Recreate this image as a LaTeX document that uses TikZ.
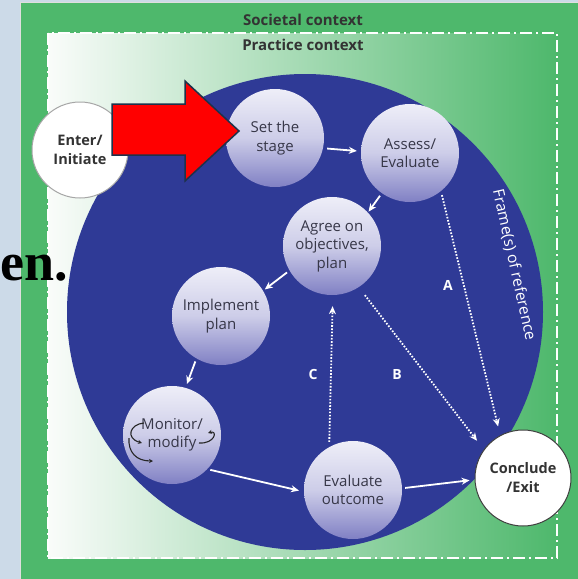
\documentclass[tikz,border=0pt]{standalone}
\usepackage{fontspec}
\setmainfont{Open Sans}
\newfontfamily\enfont{Liberation Serif}
\usetikzlibrary{arrows.meta}
\definecolor{bgblue}{RGB}{204,218,232}
\definecolor{outgreen}{RGB}{78,184,108}
\definecolor{pale}{RGB}{250,252,250}
\definecolor{midgreen}{RGB}{178,220,186}
\definecolor{bigblue}{RGB}{47,58,150}
\definecolor{ctop}{RGB}{238,238,248}
\definecolor{cbot}{RGB}{128,128,196}
\definecolor{txt}{RGB}{55,55,72}
\definecolor{arrred}{RGB}{255,0,0}
\definecolor{arrline}{RGB}{30,50,75}
\tikzset{
  stepball/.style={circle, minimum size=98pt, inner sep=0pt, top color=ctop, bottom color=cbot,
    middle color=ctop!70!cbot, draw=none, font=\fontsize{15}{18.5}\selectfont, text=txt, align=center},
  endball/.style={circle, minimum size=96pt, inner sep=0pt, fill=white, line width=1pt,
    font=\bfseries\fontsize{14.5}{19}\selectfont, text=black!80, align=center},
  flow/.style={white, line width=1.8pt, -{Stealth[length=8pt,width=7pt]}, shorten <=4pt, shorten >=4pt},
  dotflow/.style={white, line width=1.8pt, dash pattern=on 1.6pt off 1.6pt,
    -{Stealth[length=8pt,width=7pt]}},
  lbl/.style={white, font=\bfseries\fontsize{14}{14}\selectfont},
  ctxt/.style={text=black!80, font=\bfseries\fontsize{15}{15}\selectfont},
  curly/.style={black!85, line width=1.1pt, -{Stealth[length=4pt,width=4pt]}}
}
\begin{document}
\begin{tikzpicture}[x=1pt,y=-1pt]
\useasboundingbox (0,0) rectangle (578,579);
\fill[bgblue] (0,0) rectangle (578,579);
\draw[fill=outgreen, draw=white!75!gray, line width=1pt] (20.5,2.5) rectangle (582,583);
\shade[left color=pale, middle color=midgreen, right color=outgreen] (48,33) rectangle (557,558);
\draw[white, line width=1.8pt, dash pattern=on 12pt off 4pt on 2pt off 4pt] (48,33) rectangle (557,558);
\node[ctxt] (soc) at (303,20) {Societal context};
\node[ctxt] (prac) at (303,45) {Practice context};
\fill[bigblue] (305,312) circle[radius=238pt];
\node[white, rotate=-77.5, font=\fontsize{15.5}{15.5}\selectfont] (frame) at (514,265) {Frame(s) of reference};

\node[endball, draw=gray!70] (enter) at (80,150) {Enter/\\Initiate};
\node[stepball] (stage) at (275,138) {Set the\\stage};
\node[stepball] (assess) at (410,153) {Assess/\\Evaluate};
\node[stepball] (agree) at (332,246) {Agree on\\objectives,\\plan};
\node[stepball] (implement) at (221,316) {Implement\\plan};
\node[stepball] (monitor) at (172,435) {Monitor/\\modify};
\node[stepball] (evaluate) at (353,490) {Evaluate\\outcome};
\node[endball, draw=black!75] (conclude) at (523,478) {Conclude\\/Exit};

\draw[flow] (stage.-12) -- (assess.178);
\draw[flow, shorten <=3pt, shorten >=1pt] (assess.235) -- (agree.43);
\draw[flow, shorten <=3pt, shorten >=2pt] (agree.210) -- (implement.31);
\draw[flow, shorten <=3pt, shorten >=4pt] (implement.240) -- (monitor.74);
\draw[flow, shorten <=3pt, shorten >=5pt] (monitor.-44) -- (evaluate.182);
\draw[flow, shorten <=3pt, shorten >=5pt] (evaluate.2) -- (conclude.182);

\draw[dotflow, shorten <=4pt, shorten >=9pt] (assess.-51) -- (conclude.118);
\draw[dotflow, shorten <=10pt, shorten >=11pt] (agree.-57) -- (conclude.144);
\draw[dotflow, shorten <=5pt, shorten >=11pt] (evaluate.119) -- (agree.-89);
\node[lbl] (la) at (448,285) {A};
\node[lbl] (lb) at (397,374) {B};
\node[lbl] (lc) at (313,374) {C};

\begin{scope}[shift={(monitor.center)}]
\draw[curly] (-28,-12) .. controls (-42,-11) and (-47,3) .. (-30,8);
\draw[curly] (-43,3) .. controls (-44,17) and (-36,26) .. (-19,26);
\draw[curly] (27,8) .. controls (43,9) and (46,-5) .. (36,-2);
\end{scope}

\draw[fill=arrred, draw=arrline, line width=1.5pt, line join=miter]
  (112,104) -- (185,104) -- (185,81) -- (239,131) -- (185,181) -- (185,155) -- (112,155) -- cycle;

\node[anchor=base west, inner sep=0pt, text=black, font=\enfont\bfseries\fontsize{54}{54}\selectfont] (en) at (0,280) {en.};
\end{tikzpicture}
\end{document}
